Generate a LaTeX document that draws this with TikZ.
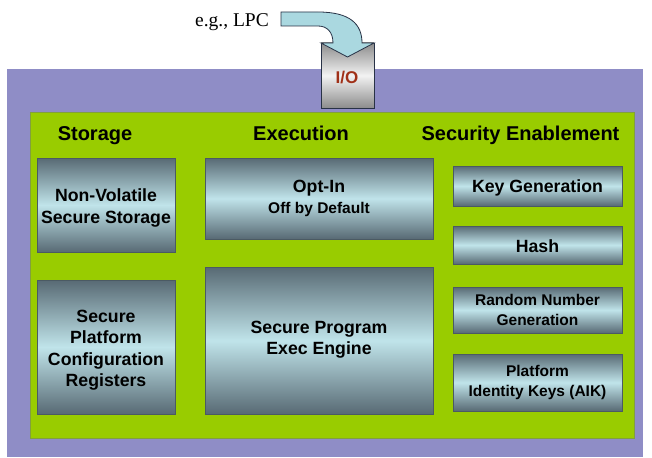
\documentclass[tikz,border=0pt]{standalone}
\usepackage{fontspec}
\setmainfont{Liberation Sans}
\newfontfamily\serifface{Liberation Serif}
\definecolor{purplebg}{RGB}{143,141,198}
\definecolor{greenbg}{RGB}{153,204,0}
\definecolor{greenedge}{RGB}{130,160,60}
\definecolor{boxdark}{RGB}{88,106,116}
\definecolor{boxlight}{RGB}{192,228,234}
\definecolor{arrowfill}{RGB}{170,216,224}
\definecolor{arrowline}{RGB}{40,50,70}
\definecolor{iored}{RGB}{160,48,24}
\begin{document}
\begin{tikzpicture}[x=1pt,y=-1pt,
  panel/.style={top color=boxdark, bottom color=boxdark, middle color=boxlight,
    draw=boxdark!85!black, line width=0.4pt, inner sep=0pt, outer sep=0pt,
    align=center, font=\bfseries\fontsize{17.7}{21.5}\selectfont},
  ptext/.style={inner sep=0pt, align=center, font=\bfseries\fontsize{17.7}{21.5}\selectfont},
  smalltext/.style={font=\bfseries\fontsize{15.5}{19.5}\selectfont},
  header/.style={font=\bfseries\fontsize{20}{24}\selectfont, anchor=base, inner sep=0pt},
  iobox/.style={top color=black!45, bottom color=black!45, middle color=black!5,
    draw=arrowline, line width=0.7pt, inner sep=0pt, outer sep=0pt},
  iotext/.style={text=iored, font=\bfseries\fontsize{17}{20}\selectfont, inner sep=0pt},
  blockarrow/.style={fill=arrowfill, draw=arrowline, line width=0.8pt, line join=miter}
]
\useasboundingbox (0,0) rectangle (652,457);
\fill[white] (0,0) rectangle (652,457);
% backgrounds
\fill[purplebg] (7,69) rectangle (643,457);
\filldraw[fill=greenbg, draw=greenedge, line width=0.5pt] (30,112) rectangle (634,438);

% I/O box and incoming arrow
\node[iobox, minimum width=53pt, minimum height=65pt] (io) at (347.5,75.5) {};
\node[iotext] (iolabel) at (347,77.5) {I/O};
\node[font=\serifface\fontsize{19.5}{22}\selectfont, anchor=base, inner sep=0pt] (lpc) at (232,26.5) {e.g., LPC};
\filldraw[blockarrow]
  (281,12) -- (318,12) .. controls (350,12) and (362,24) .. (362,43)
  -- (io.north east) -- (347.5,57) -- (io.north west) -- (333,43)
  .. controls (333,32) and (327,26) .. (318,26) -- (281,26) -- cycle;

% headers
\node[header] (hstor) at (95,141) {Storage};
\node[header] (hexec) at (301,141) {Execution};
\node[header] (hsec) at (520.5,141) {Security Enablement};

% storage
\node[panel, minimum width=138pt, minimum height=94pt] (nvss) at (106,205) {};
\node[ptext] (nvsst) at (106,208) {Non-Volatile\\Secure Storage};
\node[panel, minimum width=138pt, minimum height=134pt] (spcr) at (106,347) {};
\node[ptext] (spcrt) at (106,350) {Secure\\Platform\\Configuration\\Registers};

% execution
\node[panel, minimum width=228pt, minimum height=81pt] (optin) at (319,198.5) {Opt-In\\{\fontsize{15.5}{19}\selectfont Off by Default}};
\node[panel, minimum width=228pt, minimum height=147pt] (spee) at (319,340.5) {};
\node[ptext] (speet) at (319,339.5) {Secure Program\\Exec Engine};

% security enablement
\node[panel, minimum width=169pt, minimum height=40pt] (keygen) at (537.5,186) {};
\node[ptext] (keygent) at (537.5,187.5) {Key Generation};
\node[panel, minimum width=169pt, minimum height=38pt] (hash) at (537.5,245) {};
\node[ptext] (hasht) at (537.5,246.5) {Hash};
\node[panel, smalltext, minimum width=169pt, minimum height=46pt] (rng) at (537.5,310) {Random Number\\Generation};
\node[panel, smalltext, minimum width=169pt, minimum height=57pt] (pik) at (537.5,382.5) {Platform\\Identity Keys (AIK)};
\end{tikzpicture}
\end{document}
